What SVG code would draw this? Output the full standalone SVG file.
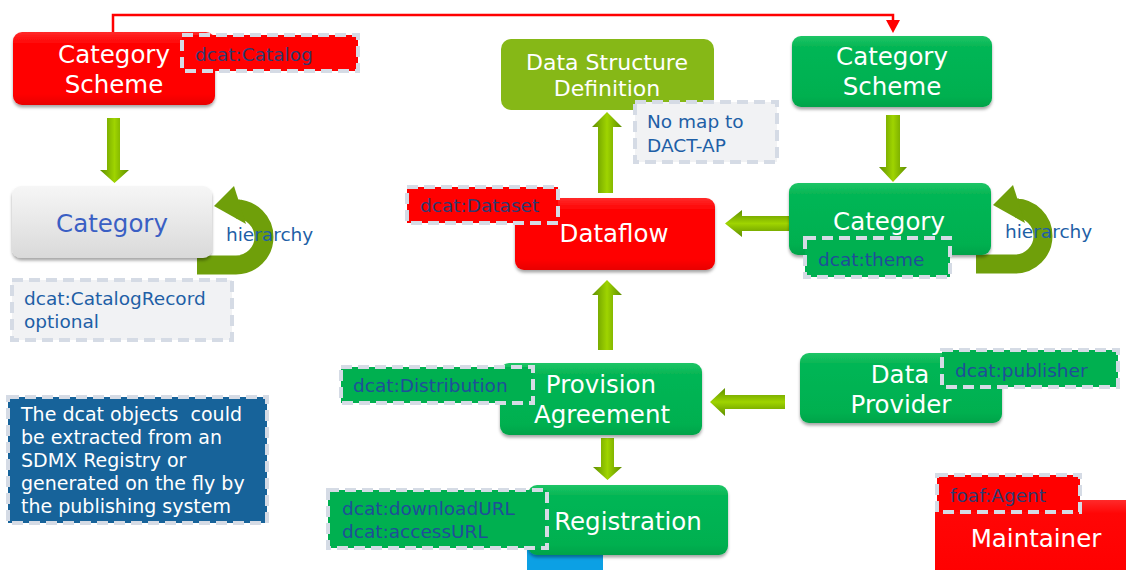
<svg xmlns="http://www.w3.org/2000/svg" width="1126" height="570" viewBox="0 0 1126 570">
<defs>
<style>
text{font-family:"DejaVu Sans","Verdana",sans-serif}
.nt{fill:#ffffff;font-size:24.5px;text-anchor:middle}
.lbl{font-size:18.5px}
.onred{fill:#2f3a70}
.ongreen{fill:#1f4e99}
.onlight{fill:#1e5fa6}
.dash{stroke:#d5dbe5;stroke-width:4;stroke-dasharray:11 6}
.green{fill:url(#gGreen)}
.red{fill:url(#gRed)}
.curl{fill:none;stroke:#6f9f0a;stroke-width:19}
</style>
<linearGradient id="gGreen" x1="0" y1="0" x2="0" y2="1">
<stop offset="0" stop-color="#1ec566"/><stop offset="0.15" stop-color="#06b655"/><stop offset="0.85" stop-color="#00b050"/><stop offset="1" stop-color="#00a349"/>
</linearGradient>
<linearGradient id="gRed" x1="0" y1="0" x2="0" y2="1">
<stop offset="0" stop-color="#ff2a2a"/><stop offset="0.15" stop-color="#ff0606"/><stop offset="0.85" stop-color="#ff0000"/><stop offset="1" stop-color="#e80000"/>
</linearGradient>
<linearGradient id="gGrey" x1="0" y1="0" x2="0" y2="1">
<stop offset="0" stop-color="#f6f6f6"/><stop offset="0.5" stop-color="#e8e8e8"/><stop offset="1" stop-color="#d9d9d9"/>
</linearGradient>
<linearGradient id="gArrV" x1="0" y1="0" x2="1" y2="0">
<stop offset="0" stop-color="#5f8f00"/><stop offset="0.5" stop-color="#9fd400"/><stop offset="1" stop-color="#5f8f00"/>
</linearGradient>
<linearGradient id="gArrH" x1="0" y1="0" x2="0" y2="1">
<stop offset="0" stop-color="#5f8f00"/><stop offset="0.5" stop-color="#9fd400"/><stop offset="1" stop-color="#5f8f00"/>
</linearGradient>
<filter id="sh" x="-10%" y="-10%" width="120%" height="130%">
<feDropShadow dx="0" dy="2.5" stdDeviation="1.5" flood-color="#000000" flood-opacity="0.35"/>
</filter>
</defs>

<g id="connectors">
<path d="M113,32 V15 H893 V21" fill="none" stroke="#ff0000" stroke-width="2.5"/>
<polygon points="886,20 900,20 893,33" fill="#ff0000"/>
<path d="M107,118 H120 V170 H129 L114.5,183 L100,170 H107 Z" fill="url(#gArrV)"/>
<path d="M886,115 H900 V167 H907 L893,182 L879,167 H886 Z" fill="url(#gArrV)"/>
<path d="M598,193 V127 H592 L607,112 L622,127 H613 V193 Z" fill="url(#gArrV)"/>
<path d="M598,350 V295 H592 L607,280 L622,295 H613 V350 Z" fill="url(#gArrV)"/>
<path d="M601,438 H614 V467 H622 L607.5,480 L593,467 H601 Z" fill="url(#gArrV)"/>
<path d="M789,216 H742 V210 L725,223.5 L742,237 V231 H789 Z" fill="url(#gArrH)"/>
<path d="M785,395 H725 V388 L710,402 L725,416 V409 H785 Z" fill="url(#gArrH)"/>
<g id="curl-left">
<path class="curl" d="M197,265 H236 A28,28 0 0 0 236,209 H240"/>
<polygon points="214,206 234,186 246,224" fill="#6f9f0a"/>
</g>
<g id="curl-right" transform="translate(779,-1)">
<path class="curl" d="M197,265 H236 A28,28 0 0 0 236,209 H240"/>
<polygon points="214,206 234,186 246,224" fill="#6f9f0a"/>
</g>
</g>

<g id="blue-bar"><rect x="527" y="540" width="76" height="32" fill="#0ca0e4"/></g>

<g id="cat-scheme-red">
<rect x="13" y="32" width="202" height="73" rx="9" class="red" filter="url(#sh)"/>
<text class="nt" x="114" y="63">Category</text>
<text class="nt" x="114" y="93">Scheme</text>
</g>

<g id="category-grey">
<rect x="12" y="186" width="200" height="72" rx="9" fill="url(#gGrey)" filter="url(#sh)"/>
<text x="112" y="232" font-size="24.5" text-anchor="middle" fill="#3a5fc4">Category</text>
</g>

<g id="dsd">
<rect x="501" y="39" width="213" height="71" rx="10" fill="#86b817"/>
<text class="nt" x="607" y="70" style="font-size:22px">Data Structure</text>
<text class="nt" x="607" y="96" style="font-size:22px">Definition</text>
</g>

<g id="cat-scheme-green">
<rect x="792" y="36" width="200" height="71" rx="9" class="green" filter="url(#sh)"/>
<text class="nt" x="892" y="65">Category</text>
<text class="nt" x="892" y="95">Scheme</text>
</g>

<g id="dataflow">
<rect x="515" y="198" width="200" height="72" rx="9" class="red" filter="url(#sh)"/>
<text class="nt" x="614" y="242">Dataflow</text>
</g>

<g id="category-green">
<rect x="789" y="183" width="202" height="72" rx="9" class="green" filter="url(#sh)"/>
<text class="nt" x="889" y="230">Category</text>
</g>

<g id="provision-agreement">
<rect x="500" y="363" width="202" height="72" rx="9" class="green" filter="url(#sh)"/>
<text class="nt" x="601" y="393">Provision</text>
<text class="nt" x="602" y="423">Agreement</text>
</g>

<g id="registration">
<rect x="528" y="485" width="200" height="70" rx="9" class="green" filter="url(#sh)"/>
<text class="nt" x="628" y="530">Registration</text>
</g>

<g id="data-provider">
<rect x="800" y="353" width="202" height="70" rx="9" class="green" filter="url(#sh)"/>
<text class="nt" x="900" y="383">Data</text>
<text class="nt" x="901" y="413">Provider</text>
</g>

<g id="maintainer">
<rect x="935" y="500" width="210" height="90" rx="9" class="red"/>
<text class="nt" x="1036" y="547">Maintainer</text>
</g>

<g id="label-catalog">
<rect x="182" y="35" width="176" height="36" fill="#ff0000" class="dash"/>
<text class="lbl onred" x="195" y="61">dcat:Catalog</text>
</g>

<g id="hier-left"><text class="lbl onlight" x="226" y="241">hierarchy</text></g>
<g id="hier-right"><text class="lbl onlight" x="1005" y="238">hierarchy</text></g>

<g id="label-catalogrecord">
<rect x="12" y="280" width="220" height="60" fill="#f1f2f4" class="dash"/>
<text class="lbl onlight" x="24" y="305">dcat:CatalogRecord</text>
<text class="lbl onlight" x="24" y="328">optional</text>
</g>

<g id="label-nomap">
<rect x="635" y="102" width="142" height="60" fill="#f1f2f4" class="dash"/>
<text class="lbl onlight" x="647" y="128">No map to</text>
<text class="lbl onlight" x="647" y="152">DACT-AP</text>
</g>

<g id="label-dataset">
<rect x="407" y="187" width="151" height="36" fill="#ff0000" class="dash"/>
<text class="lbl onred" x="420" y="212">dcat:Dataset</text>
</g>

<g id="label-theme">
<rect x="805" y="238" width="145" height="39" fill="#00b050" class="dash"/>
<text class="lbl ongreen" x="818" y="266">dcat:theme</text>
</g>

<g id="label-distribution">
<rect x="341" y="367" width="192" height="36" fill="#00b050" class="dash"/>
<text class="lbl ongreen" x="353" y="392">dcat:Distribution</text>
</g>

<g id="label-urls">
<rect x="328" y="490" width="219" height="58" fill="#00b050" class="dash"/>
<text class="lbl ongreen" x="342" y="515">dcat:downloadURL</text>
<text class="lbl ongreen" x="342" y="538">dcat:accessURL</text>
</g>

<g id="label-publisher">
<rect x="942" y="350" width="176" height="37" fill="#00b050" class="dash"/>
<text class="lbl ongreen" x="955" y="377">dcat:publisher</text>
</g>

<g id="label-agent">
<rect x="937" y="475" width="143" height="37" fill="#ff0000" class="dash"/>
<text class="lbl onred" x="950" y="502">foaf:Agent</text>
</g>

<g id="note">
<rect x="8" y="397" width="259" height="126" fill="#17639a" class="dash"/>
<text x="21" y="421" font-size="19" fill="#ffffff" xml:space="preserve">The dcat objects  could</text>
<text x="21" y="444" font-size="19" fill="#ffffff">be extracted from an</text>
<text x="21" y="467" font-size="19" fill="#ffffff">SDMX Registry or</text>
<text x="21" y="490" font-size="19" fill="#ffffff">generated on the fly by</text>
<text x="21" y="513" font-size="19" fill="#ffffff">the publishing system</text>
</g>
</svg>
